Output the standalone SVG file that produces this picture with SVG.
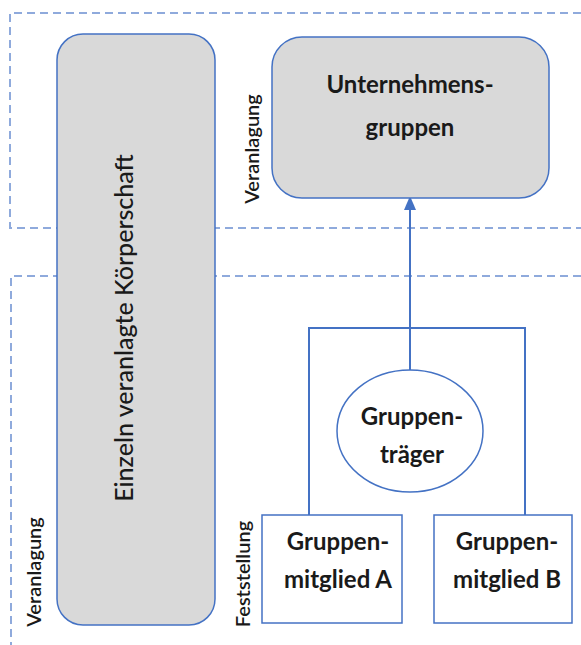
<svg xmlns="http://www.w3.org/2000/svg" width="581" height="645" viewBox="0 0 581 645">
<defs>
<marker id="arr" markerWidth="12" markerHeight="14" refX="10" refY="6" orient="auto" markerUnits="userSpaceOnUse">
<path d="M0,0 L14,6 L0,12 Z" fill="#4472C4"/>
</marker>
<style>
.dash{fill:none;stroke:#8FAADC;stroke-width:2;stroke-dasharray:8 5}
.node{fill:#D9D9D9;stroke:#4472C4;stroke-width:1.5}
.box{fill:#FFFFFF;stroke:#4472C4;stroke-width:1.5}
.conn{fill:none;stroke:#4472C4;stroke-width:2}
.t{font-family:Lato,"Open Sans","Liberation Sans",sans-serif;fill:#1a1a1a;text-anchor:middle}
.b{font-weight:bold;font-size:24px}
.s{font-size:20px;font-weight:600}
</style>
</defs>
<g id="frames">
<path class="dash" d="M581,13 H10 V228 H581"/>
<path class="dash" d="M581,276 H11 V645"/>
</g>
<g id="koerperschaft">
<rect class="node" x="57" y="34" width="158" height="591" rx="26"/>
<text class="t" font-size="25" font-weight="500" transform="translate(133,328) rotate(-90)">Einzeln veranlagte Körperschaft</text>
</g>
<g id="unternehmensgruppen">
<rect class="node" x="272" y="37" width="277" height="161" rx="30"/>
<text class="t b" x="410" y="93">Unternehmens-</text>
<text class="t b" x="410" y="136">gruppen</text>
</g>
<g id="connectors">
<path class="conn" d="M309,515 V328 H525 V515"/>
<path class="conn" d="M410,370 V200" marker-end="url(#arr)"/>
</g>
<g id="gruppentraeger">
<ellipse class="box" cx="410" cy="431" rx="73" ry="61"/>
<text class="t b" x="412" y="425">Gruppen-</text>
<text class="t b" x="412" y="463">träger</text>
</g>
<g id="mitgliedA">
<rect class="box" x="262" y="515" width="140" height="108"/>
<text class="t b" x="338" y="550">Gruppen-</text>
<text class="t b" x="338" y="588">mitglied A</text>
</g>
<g id="mitgliedB">
<rect class="box" x="434" y="515" width="138" height="108"/>
<text class="t b" x="507" y="550">Gruppen-</text>
<text class="t b" x="507" y="588">mitglied B</text>
</g>
<g id="labels">
<text class="t s" transform="translate(259,149) rotate(-90)">Veranlagung</text>
<text class="t s" transform="translate(41,572) rotate(-90)">Veranlagung</text>
<text class="t s" transform="translate(250,574) rotate(-90)">Feststellung</text>
</g>
</svg>
